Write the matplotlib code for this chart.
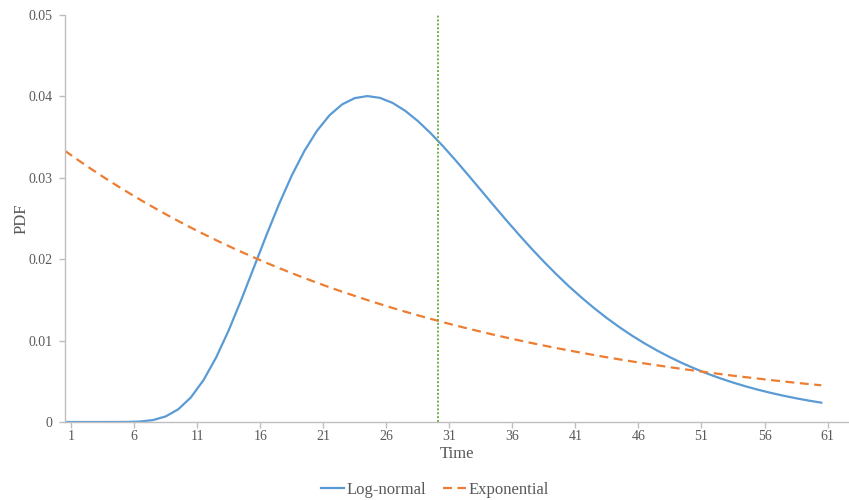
import numpy as np
import matplotlib.pyplot as plt

plt.rcParams['font.family'] = ['Liberation Serif', 'DejaVu Serif']

# time points (0..60)
time = list(range(0, 61))

lognormal = [
    0.0, 0.0, 0.0, 0.0, 0.0000008, 0.00001, 0.0000615, 0.000239, 0.000683, 0.001561,
    0.003019, 0.00514, 0.007914, 0.011257, 0.01502, 0.018996, 0.022979, 0.02679, 0.03027, 0.03329,
    0.03577, 0.03769, 0.03902, 0.03979, 0.04004, 0.03982, 0.03920, 0.03823, 0.03698, 0.03551,
    0.03388, 0.03214, 0.03033, 0.02849, 0.02664, 0.02482, 0.02305, 0.02133, 0.01969, 0.01813,
    0.01665, 0.01527, 0.01397, 0.01276, 0.01164, 0.01060, 0.009645, 0.008764, 0.007955, 0.007215,
    0.006539, 0.005922, 0.005359, 0.004847, 0.004381, 0.00396, 0.003576, 0.003229, 0.002916, 0.002632,
    0.002375,
]

exponential = [
    0.03333, 0.03224, 0.03118, 0.03016, 0.02917, 0.02822, 0.02729, 0.02640, 0.02553, 0.02469,
    0.02388, 0.02310, 0.02234, 0.02161, 0.02090, 0.02022, 0.01955, 0.01891, 0.01829, 0.01769,
    0.01711, 0.01655, 0.01601, 0.01549, 0.01498, 0.01449, 0.01401, 0.01355, 0.01311, 0.01268,
    0.01226, 0.01186, 0.01147, 0.01110, 0.01073, 0.01038, 0.01004, 0.00971, 0.00939, 0.00908,
    0.00879, 0.00850, 0.00822, 0.00795, 0.00769, 0.00744, 0.00719, 0.00696, 0.00673, 0.00651,
    0.00630, 0.00609, 0.00589, 0.00569, 0.00551, 0.00533, 0.00515, 0.00498, 0.00482, 0.00466,
    0.00451,
]

marker_time = 29.6
tick_labels = [1, 6, 11, 16, 21, 26, 31, 36, 41, 46, 51, 56, 61]

fig = plt.figure(figsize=(8.49, 5.0), dpi=100)
ax = fig.add_axes([0.0766, 0.156, 0.9234, 0.814])

x = np.array(time) + 0.5
ax.plot(x, lognormal, color='#5B9BD5', linewidth=1.6, label='Log-normal')
ax.plot(x, exponential, color='#ED7D31', linewidth=1.6, linestyle=(0, (4, 2.5)),
        label='Exponential')
ax.axvline(marker_time + 0.5, ymin=0, ymax=1, color='#70AD47', linewidth=1.4,
           linestyle=(0, (1, 1)))

ax.set_xlim(0.52, 62.7)
ax.set_ylim(0, 0.05)
ax.set_xticks(tick_labels)
ax.set_xticklabels([str(t) for t in tick_labels])
ax.set_yticks([0, 0.01, 0.02, 0.03, 0.04, 0.05])
ax.set_yticklabels(['0', '0.01', '0.02', '0.03', '0.04', '0.05'])

for side in ['top', 'right']:
    ax.spines[side].set_visible(False)
for side in ['left', 'bottom']:
    ax.spines[side].set_color('#BFBFBF')
    ax.spines[side].set_linewidth(1.0)
ax.tick_params(axis='both', colors='#BFBFBF', labelcolor='#595959', labelsize=10,
               length=4, width=1.0)
ax.tick_params(axis='x', pad=2)
ax.tick_params(axis='y', pad=5)

ax.set_xlabel('Time', fontsize=12, color='#595959', labelpad=2)
ax.set_ylabel('PDF', fontsize=12, color='#595959')
ax.yaxis.set_label_coords(-0.045, 0.5)

fig.legend(loc='center', bbox_to_anchor=(0.512, 0.02), ncol=2, frameon=False,
           fontsize=12, labelcolor='#595959', handlelength=1.4, handletextpad=0.15,
           columnspacing=1.0)

plt.savefig('out.png', dpi=100)
plt.close()
